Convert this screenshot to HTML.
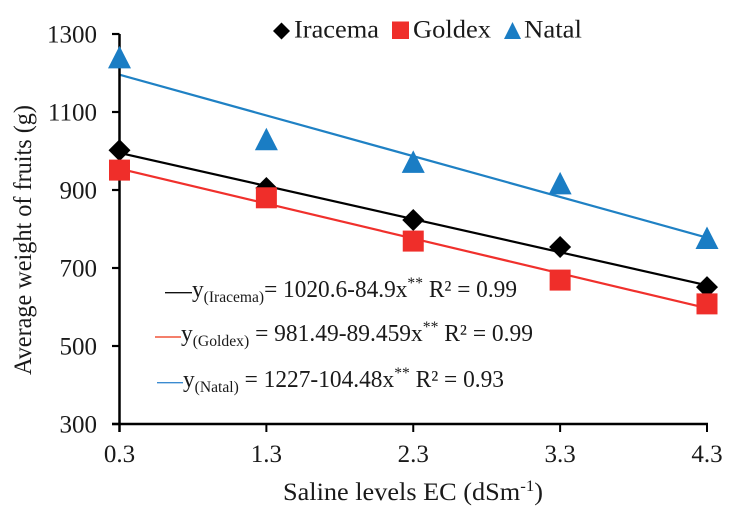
<!DOCTYPE html>
<html lang="en">
<head>
<meta charset="utf-8">
<title>Average weight of fruits vs saline levels</title>
<style>
html,body{margin:0;padding:0;background:#fff;width:736px;height:520px;overflow:hidden}
svg{display:block;font-family:"Liberation Serif",serif;fill:#1a1a1a;filter:blur(0.35px)}
</style>
</head>
<body>
<svg id="chart" width="736" height="520" viewBox="0 0 736 520" xmlns="http://www.w3.org/2000/svg">
  <rect width="736" height="520" fill="#fff"/>
  <g id="trends"></g>
  <g id="axes"></g>
  <g id="marks"></g>

  <text transform="translate(31,240) rotate(-90)" text-anchor="middle" font-size="25" textLength="270" lengthAdjust="spacingAndGlyphs">Average weight of fruits (g)</text>
  <text x="283" y="500" font-size="25" textLength="260" lengthAdjust="spacingAndGlyphs">Saline levels EC (dSm<tspan font-size="16" dy="-9">-1</tspan><tspan dy="9">)</tspan></text>

  <g>
    <g>
      <path d="M281.5 22.5l8.5 8.5-8.5 8.5-8.5-8.5z" fill="#000"/>
      <text x="294" y="37.5" font-size="25" textLength="85" lengthAdjust="spacingAndGlyphs">Iracema</text>
    </g>
    <g>
      <rect x="392" y="21.5" width="17" height="17.5" fill="#EF2E2A"/>
      <text x="413" y="37.5" font-size="25" textLength="78" lengthAdjust="spacingAndGlyphs">Goldex</text>
    </g>
    <g>
      <path d="M512.5 22l8.5 17h-17z" fill="#1A7DC4"/>
      <text x="524" y="37.5" font-size="25" textLength="58" lengthAdjust="spacingAndGlyphs">Natal</text>
    </g>
  </g>

  <g>
    <line x1="165" y1="292.7" x2="192" y2="292.7" stroke="#111" stroke-width="1.4"/>
    <text x="192" y="297" font-size="24" textLength="325" lengthAdjust="spacingAndGlyphs">y<tspan font-size="16" dy="5">(Iracema)</tspan><tspan dy="-5">= 1020.6-84.9x</tspan><tspan font-size="16" dy="-9">**</tspan><tspan dy="9"> R² = 0.99</tspan></text>
    <line x1="155" y1="337" x2="181" y2="337" stroke="#F0553A" stroke-width="1.4"/>
    <text x="181" y="341" font-size="24" textLength="352" lengthAdjust="spacingAndGlyphs">y<tspan font-size="16" dy="5">(Goldex)</tspan><tspan dy="-5"> = 981.49-89.459x</tspan><tspan font-size="16" dy="-9">**</tspan><tspan dy="9">  R² = 0.99</tspan></text>
    <line x1="157" y1="382.7" x2="183" y2="382.7" stroke="#3B8BD0" stroke-width="1.4"/>
    <text x="183" y="387" font-size="24" textLength="321" lengthAdjust="spacingAndGlyphs">y<tspan font-size="16" dy="5">(Natal)</tspan><tspan dy="-5"> = 1227-104.48x</tspan><tspan font-size="16" dy="-9">**</tspan><tspan dy="9">  R² = 0.93</tspan></text>
  </g>
</svg>
<script>
const salineLevels = [0.3, 1.3, 2.3, 3.3, 4.3];
const xTickLabels = ["0.3", "1.3", "2.3", "3.3", "4.3"];
const yTicks = [300, 500, 700, 900, 1100, 1300];
const iracemaValues = [1002, 905, 823, 754, 651];
const goldexValues = [951, 880, 769, 669, 608];
const natalValues = [1240, 1030, 972, 917, 777];
const trendIntercepts = [1020.6, 981.49, 1227];
const trendSlopes = [-84.9, -89.459, -104.48];

const NS = 'http://www.w3.org/2000/svg';
const sx = v => 119.5 + (v - 0.3) * (707 - 119.5) / 4;
const sy = v => 424 - (v - 300) * 0.39;
function mk(tag, attrs, parent) {
  const el = document.createElementNS(NS, tag);
  for (const k in attrs) el.setAttribute(k, attrs[k]);
  parent.appendChild(el);
  return el;
}
const axes = document.getElementById('axes');
const trends = document.getElementById('trends');
const marks = document.getElementById('marks');

const yAxisLine = mk('line', {x1: sx(0.3), x2: sx(0.3), y1: sy(1300), y2: 432, stroke: '#000', 'stroke-width': 2.5}, axes);


const xAxisLine = mk('line', {x1: 112, x2: sx(4.3) + 1, y1: sy(300), y2: sy(300), stroke: '#000', 'stroke-width': 2.5}, axes);



yTicks.forEach(t => {
  const tick = mk('line', {x1: 112, x2: sx(0.3), y1: sy(t), y2: sy(t), stroke: '#000', 'stroke-width': 2.2}, axes);
  
  
  const label = mk('text', {x: 97, y: sy(t) + 8.5, 'text-anchor': 'end', 'font-size': 25}, axes);
  
  
  label.textContent = t;
});
salineLevels.forEach((v, i) => {
  const tick = mk('line', {x1: sx(v), x2: sx(v), y1: sy(300), y2: 432, stroke: '#000', 'stroke-width': 2}, axes);
  
  
  const label = mk('text', {x: sx(v), y: 462, 'text-anchor': 'middle', 'font-size': 25}, axes);
  
  
  label.textContent = xTickLabels[i];
});

const trendColors = ['#000', '#F0302C', '#1F81C4'];
const trendNames = ['trend-line-iracema', 'trend-line-goldex', 'trend-line-natal'];
trendIntercepts.forEach((a, i) => {
  const b = trendSlopes[i];
  const first = salineLevels[0], last = salineLevels[salineLevels.length - 1];
  const line = mk('line', {x1: sx(first), y1: sy(a + b * first), x2: sx(last), y2: sy(a + b * last), stroke: trendColors[i], 'stroke-width': 2.2}, trends);
  
  
});

iracemaValues.forEach((v, i) => {
  const x = sx(salineLevels[i]), y = sy(v);
  const m = mk('path', {d: `M${x} ${y - 11}L${x + 11} ${y}L${x} ${y + 11}L${x - 11} ${y}Z`, fill: '#000'}, marks);
  
  
});
goldexValues.forEach((v, i) => {
  const x = sx(salineLevels[i]), y = sy(v);
  const m = mk('rect', {x: x - 10.5, y: y - 10.5, width: 21, height: 21, fill: '#EF2E2A'}, marks);
  
  
});
natalValues.forEach((v, i) => {
  const x = sx(salineLevels[i]), y = sy(v);
  const m = mk('path', {d: `M${x} ${y - 11.5}L${x + 11.5} ${y + 11}L${x - 11.5} ${y + 11}Z`, fill: '#1A7DC4'}, marks);
  
  
});
</script>
</body>
</html>
